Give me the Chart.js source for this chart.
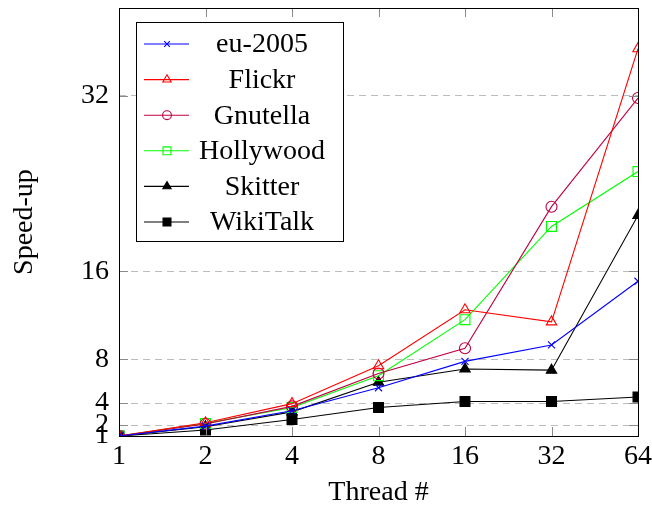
<!DOCTYPE html>
<html>
<head>
<meta charset="utf-8">
<script src="https://cdn.jsdelivr.net/npm/chart.js@4.4.0/dist/chart.umd.min.js"></script>
<style>
  html, body { margin: 0; padding: 0; background: #fff; }
  #wrap { width: 652px; height: 515px; }
</style>
</head>
<body>
<div id="wrap"><canvas id="speedup"></canvas></div>
<script>
const threads = [ 1, 2, 4, 8, 16, 32, 64 ]
const yTicks = [ 1, 2, 4, 8, 16, 32 ]

const eu2005 = [ 1, 1.9, 3.3, 5.4, 7.8, 9.3, 15.1 ]
const flickr = [ 1, 2.2, 3.95, 7.4, 12.5, 11.4, 36.3 ]
const gnutella = [ 1, 2.1, 3.7, 6.7, 9.0, 21.9, 31.8 ]
const hollywood = [ 1, 2.15, 3.6, 6.5, 11.6, 20.1, 25.1 ]
const skitter = [ 1, 1.85, 3.2, 5.9, 7.1, 7.0, 21.1 ]
const wikiTalk = [ 1, 1.55, 2.5, 3.6, 4.15, 4.15, 4.55 ]

const FONT = '"Liberation Serif", "DejaVu Serif", serif'
const FONT_SIZE = 28

const points = values => values.map( ( v, i ) => ( { x: threads[ i ], y: v } ) )

function series( label, values, color, style, radius, filled ) {
  return {
    label: label,
    data: points( values ),
    borderColor: color,
    backgroundColor: filled ? color : 'rgba(0,0,0,0)',
    pointStyle: style,
    pointRadius: radius,
    pointBorderWidth: 1.1,
    pointBorderColor: color,
    pointBackgroundColor: filled ? color : 'rgba(0,0,0,0)',
    borderWidth: 1.1,
    tension: 0,
    fill: false
  }
}

const data = {
  datasets: [
    series( 'eu-2005', eu2005, '#0000ff', 'crossRot', 5, false ),
    series( 'Flickr', flickr, '#ff0000', 'triangle', 6, false ),
    series( 'Gnutella', gnutella, 'rgb(191,0,64)', 'circle', 5.5, false ),
    series( 'Hollywood', hollywood, '#00ff00', 'rect', 7, false ),
    series( 'Skitter', skitter, '#000000', 'triangle', 6, true ),
    series( 'WikiTalk', wikiTalk, '#000000', 'rect', 7, true )
  ]
}

// box, inward tick marks and the legend drawn like pgfplots
const frame = {
  id: 'frame',
  afterDraw( chart ) {
    const { ctx, chartArea: a, scales } = chart
    const L = Math.round( a.left ), R = Math.round( a.right )
    const T = Math.round( a.top ), B = Math.round( a.bottom )
    ctx.save()
    ctx.setLineDash( [] )
    ctx.globalAlpha = 1
    ctx.fillStyle = '#8a8a8a'
    threads.forEach( t => {
      const x = Math.round( scales.x.getPixelForValue( t ) )
      ctx.fillRect( x, B - 9, 1, 9 )
      ctx.fillRect( x, T, 1, 9 )
    } )
    yTicks.forEach( t => {
      const y = Math.round( scales.y.getPixelForValue( t ) )
      ctx.fillRect( L, y, 9, 1 )
      ctx.fillRect( R - 9, y, 9, 1 )
    } )
    ctx.fillStyle = '#000'
    ctx.fillRect( L, T, R - L + 1, 1 )
    ctx.fillRect( L, B, R - L + 1, 1 )
    ctx.fillRect( L, T, 1, B - T + 1 )
    ctx.fillRect( R, T, 1, B - T + 1 )

    // legend
    const bx = L + 17, by = T + 14, bw = 207, bh = 219
    ctx.fillStyle = '#fff'
    ctx.fillRect( bx, by, bw, bh )
    ctx.fillStyle = '#000'
    ctx.fillRect( bx, by, bw, 1 )
    ctx.fillRect( bx, by + bh, bw + 1, 1 )
    ctx.fillRect( bx, by, 1, bh )
    ctx.fillRect( bx + bw, by, 1, bh )
    ctx.font = FONT_SIZE + 'px ' + FONT
    ctx.textAlign = 'center'
    ctx.textBaseline = 'middle'
    chart.data.datasets.forEach( ( ds, i ) => {
      const y = by + 22 + i * 35.6
      ctx.strokeStyle = ds.borderColor
      ctx.lineWidth = 1.1
      ctx.beginPath()
      ctx.moveTo( bx + 8, y ); ctx.lineTo( bx + 53, y )
      ctx.stroke()
      ctx.fillStyle = ds.pointBackgroundColor
      Chart.helpers.drawPoint( ctx, {
        pointStyle: ds.pointStyle,
        radius: ds.pointRadius * 0.8,
        borderWidth: 1.1,
        rotation: 0
      }, bx + 31, y )
      ctx.fillStyle = '#000'
      ctx.fillText( ds.label, bx + 126, y + 1 )
    } )
    ctx.restore()
  }
}

const tickFont = { family: FONT, size: FONT_SIZE }

const config = {
  type: 'line',
  data: data,
  options: {
    responsive: true,
    maintainAspectRatio: false,
    animation: false,
    layout: { padding: { left: 0, right: 14, top: 6, bottom: 0 } },
    plugins: {
      legend: { display: false },
      tooltip: { enabled: false }
    },
    scales: {
      x: {
        type: 'logarithmic',
        min: 1,
        max: 64,
        afterBuildTicks: scale => { scale.ticks = threads.map( v => ( { value: v } ) ) },
        afterFit: scale => {
          scale.height = 79
          scale.paddingLeft = 0
          scale.paddingRight = 0
        },
        ticks: {
          autoSkip: false,
          maxRotation: 0,
          padding: 4,
          color: '#000',
          font: tickFont,
          callback: v => String( v )
        },
        grid: { display: false, drawTicks: false },
        border: { display: false },
        title: {
          display: true,
          text: 'Thread #',
          color: '#000',
          font: tickFont,
          padding: { top: 0, bottom: 6 }
        }
      },
      y: {
        type: 'linear',
        min: 1,
        max: 40,
        afterBuildTicks: scale => { scale.ticks = yTicks.map( v => ( { value: v } ) ) },
        afterFit: scale => {
          scale.width = 119
          scale.paddingTop = 0
          scale.paddingBottom = 0
        },
        ticks: {
          autoSkip: false,
          padding: 10,
          color: '#000',
          font: tickFont,
          callback: v => String( v )
        },
        grid: {
          color: '#bdbdbd',
          lineWidth: 1,
          drawTicks: false
        },
        border: { display: false, dash: [ 7, 5 ] },
        title: {
          display: true,
          text: 'Speed-up',
          color: '#000',
          font: tickFont,
          padding: { top: 8, bottom: 0 }
        }
      }
    }
  },
  plugins: [ frame ]
}

const graph = new Chart( document.getElementById( 'speedup' ), config )
</script>
</body>
</html>
